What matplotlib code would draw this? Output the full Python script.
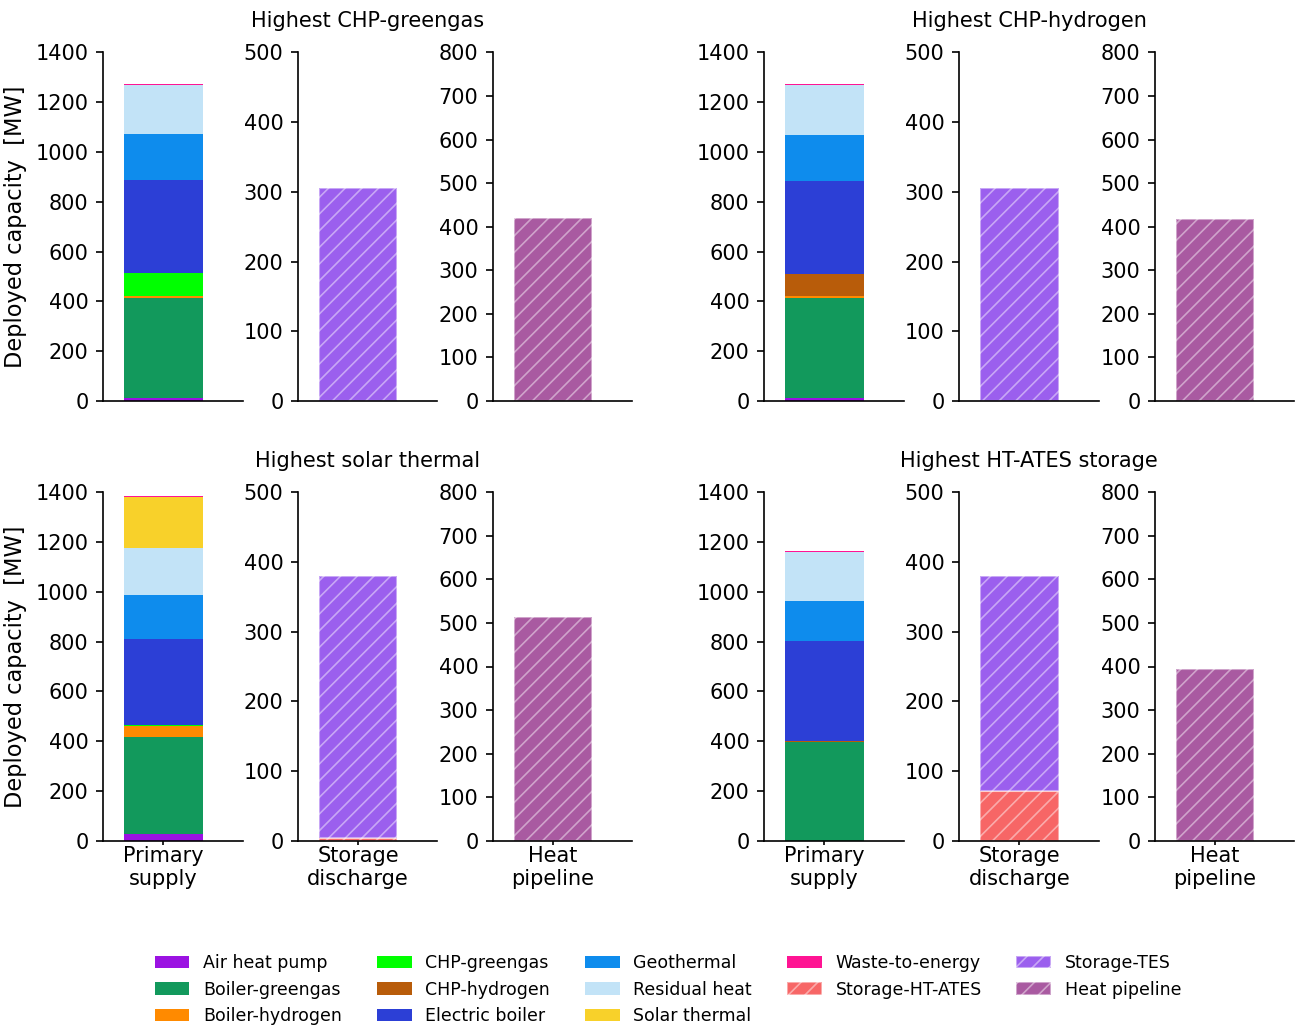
import matplotlib
matplotlib.use("Agg")
import matplotlib.pyplot as plt
from matplotlib.patches import Patch

# Scenario names
scenarios = ["Highest CHP-greengas", "Highest CHP-hydrogen",
             "Highest solar thermal", "Highest HT-ATES storage"]

# Primary supply technologies (stacked bottom to top)
techs = ["Air heat pump", "Boiler-greengas", "Boiler-hydrogen", "CHP-greengas",
         "CHP-hydrogen", "Electric boiler", "Geothermal", "Residual heat",
         "Solar thermal", "Waste-to-energy"]
tech_colors = ["#9b12e2", "#12995c", "#ff8a00", "#00ff00", "#b85c0a",
               "#2c3fd6", "#0e8ced", "#c2e3f7", "#f8d12a", "#ff1493"]

# Deployed primary capacity per scenario [MW], in the order of `techs`
primary_chp_greengas = [12, 401, 9, 91, 0, 375, 184, 198, 0, 4]
primary_chp_hydrogen = [12, 401, 8, 0, 88, 375, 184, 202, 0, 4]
primary_solar = [29, 389, 44, 5, 0, 344, 177, 189, 202, 5]
primary_ates = [0, 398, 0, 0, 1.5, 402, 161, 196, 0, 4]
primary = [primary_chp_greengas, primary_chp_hydrogen, primary_solar, primary_ates]

# Storage discharge capacity [MW]
storage_ht_ates = [0, 0, 4, 72]
storage_tes = [306, 306, 376, 308]

# Heat pipeline capacity [MW]
heat_pipeline = [421, 418, 514, 394]

col_tes = "#9b5fee"
col_ates = "#f76666"
col_pipe = "#a95aa1"

xlabels = ["Primary\nsupply", "Storage\ndischarge", "Heat\npipeline"]

W, H, DPI = 1301, 1028, 150
fig = plt.figure(figsize=(W / DPI, H / DPI), dpi=DPI)
plt.rcParams["font.size"] = 10
plt.rcParams["hatch.linewidth"] = 0.8

# Panel frames in pixels: (left, right) per column and (top, bottom) per row
group_cols = [[(103, 243), (298, 437), (493, 632)],
              [(764, 904), (959, 1099), (1155, 1294)]]
rows = [(52.5, 401), (492, 841)]

def make_ax(x0, x1, y0, y1):
    return fig.add_axes([x0 / W, 1 - y1 / H, (x1 - x0) / W, (y1 - y0) / H])

hatch_edge = (1, 1, 1, 0.45)
hatch = "///"
bw = 0.8
xl = (-0.614, 0.808)

for s in range(4):
    r, g = divmod(s, 2)
    y0, y1 = rows[r]
    ax1 = make_ax(*group_cols[g][0], y0, y1)
    ax2 = make_ax(*group_cols[g][1], y0, y1)
    ax3 = make_ax(*group_cols[g][2], y0, y1)

    bottom = 0
    for val, col in zip(primary[s], tech_colors):
        ax1.bar(0, val, bw, bottom=bottom, color=col, linewidth=0)
        bottom += val
    ax1.set_ylim(0, 1400)
    ax1.set_yticks(range(0, 1401, 200))

    ax2.bar(0, storage_ht_ates[s], bw, color=col_ates, hatch=hatch,
            edgecolor=hatch_edge, linewidth=1)
    ax2.bar(0, storage_tes[s], bw, bottom=storage_ht_ates[s], color=col_tes,
            hatch=hatch, edgecolor=hatch_edge, linewidth=1)
    ax2.set_ylim(0, 500)
    ax2.set_yticks(range(0, 501, 100))

    ax3.bar(0, heat_pipeline[s], bw, color=col_pipe, hatch=hatch,
            edgecolor=hatch_edge, linewidth=1)
    ax3.set_ylim(0, 800)
    ax3.set_yticks(range(0, 801, 100))

    for ax, lab in zip((ax1, ax2, ax3), xlabels):
        ax.set_xlim(*xl)
        ax.spines["top"].set_visible(False)
        ax.spines["right"].set_visible(False)
        if r == 1:
            ax.set_xticks([0])
            ax.set_xticklabels([lab])
            ax.tick_params(axis="x", length=2, pad=0.5)
        else:
            ax.set_xticks([])
        ax.tick_params(labelsize=10)

    if g == 0:
        ax1.set_ylabel("Deployed capacity  [MW]", fontsize=10.8)
        ax1.yaxis.set_label_coords(-0.54, 0.5)
    ax2.set_title(scenarios[s], fontsize=10, pad=12)

handles = [Patch(facecolor=c, label=t) for t, c in zip(techs, tech_colors)]
handles.append(Patch(facecolor=col_ates, hatch=hatch, edgecolor=hatch_edge,
                     label="Storage-HT-ATES"))
handles.append(Patch(facecolor=col_tes, hatch=hatch, edgecolor=hatch_edge,
                     label="Storage-TES"))
handles.append(Patch(facecolor=col_pipe, hatch=hatch, edgecolor=hatch_edge,
                     label="Heat pipeline"))
fig.legend(handles=handles, loc="lower center", ncol=5, frameon=False,
           fontsize="small", bbox_to_anchor=(0.5135, -0.0125))

fig.savefig("out.png", dpi=DPI)
